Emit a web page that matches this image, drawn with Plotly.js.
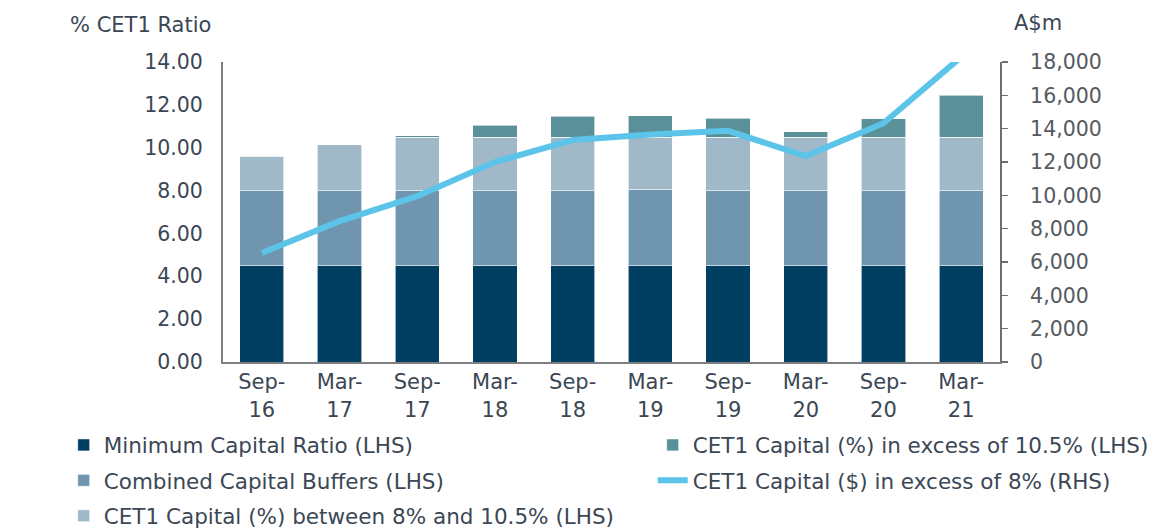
<!DOCTYPE html>
<html>
<head>
<meta charset="utf-8">
<script src="https://cdn.plot.ly/plotly-3.0.1.min.js"></script>
<style>html,body{margin:0;padding:0;background:#fff;}#chart{width:1166px;height:531px;}</style>
</head>
<body>
<div id="chart"></div>
<script>
const categories = ["Sep-<br>16","Mar-<br>17","Sep-<br>17","Mar-<br>18","Sep-<br>18","Mar-<br>19","Sep-<br>19","Mar-<br>20","Sep-<br>20","Mar-<br>21"];
const minimumCapital = [4.5,4.5,4.5,4.5,4.5,4.5,4.5,4.5,4.5,4.5];
const combinedBuffers = [3.5,3.5,3.5,3.5,3.5,3.53,3.5,3.5,3.5,3.5];
const cet1Between = [1.61,2.13,2.5,2.5,2.5,2.47,2.5,2.5,2.5,2.5];
const cet1Excess = [0,0,0.06,0.55,0.96,0.99,0.88,0.25,0.85,1.95];
const cet1Dollars = [6540,8450,9950,12000,13320,13650,13870,12360,14330,18300];

const FONT = "DejaVu Sans, Verdana, sans-serif";
const TXT = "#3b4754";

function barTrace(name, y, color, rank, legend) {
  return {
    type: "bar", name: name, x: categories, y: y,
    marker: {color: color, line: {color: "rgba(255,255,255,0.6)", width: 1}},
    legendgroup: name, legendrank: rank, legend: legend,
    hoverinfo: "skip"
  };
}

const traces = [
  barTrace("Minimum Capital Ratio (LHS)", minimumCapital, "#013f62", 1, "legend"),
  barTrace("Combined Capital Buffers (LHS)", combinedBuffers, "#7095ae", 2, "legend"),
  barTrace("CET1 Capital (%) between 8% and 10.5% (LHS)", cet1Between, "#a1b8c8", 3, "legend"),
  barTrace("CET1 Capital (%) in excess of 10.5% (LHS)", cet1Excess, "#5a9199", 1, "legend2"),
  {
    type: "scatter", mode: "lines", name: "CET1 Capital ($) in excess of 8% (RHS)",
    x: categories, y: cet1Dollars, yaxis: "y2",
    line: {color: "#5bc4e8", width: 6},
    legendgroup: "line", legendrank: 2, legend: "legend2", hoverinfo: "skip"
  }
];

const legendCommon = {
  orientation: "v", traceorder: "grouped", tracegroupgap: 4.5,
  font: {family: FONT, size: 21.5, color: TXT},
  bgcolor: "rgba(0,0,0,0)", xanchor: "left", yanchor: "top",
  itemwidth: 30
};

const layout = {
  width: 1166, height: 531,
  margin: {l: 223, r: 166, t: 62, b: 169, autoexpand: false},
  paper_bgcolor: "#ffffff", plot_bgcolor: "#ffffff",
  font: {family: FONT, size: 21, color: TXT},
  barmode: "stack", bargap: 0.43,
  showlegend: true,
  xaxis: {
    type: "category", range: [-0.5, 9.5],
    showline: true, linecolor: "#7f7f7f", linewidth: 2,
    ticks: "", showgrid: false, zeroline: false,
    tickfont: {family: FONT, size: 21, color: TXT}
  },
  yaxis: {
    range: [0, 14], dtick: 2, tickformat: ".2f",
    showline: true, linecolor: "#7f7f7f", linewidth: 2,
    ticks: "", showgrid: false, zeroline: false,
    ticklabelstandoff: 14,
    tickfont: {family: FONT, size: 20.5, color: TXT}
  },
  yaxis2: {
    overlaying: "y", side: "right", range: [0, 18000], dtick: 2000,
    tickformat: ",d",
    showline: true, linecolor: "#6f6f6f", linewidth: 2,
    ticks: "outside", ticklen: 6, tickwidth: 1.5, tickcolor: "#6f6f6f",
    showgrid: false, zeroline: false,
    ticklabelstandoff: 18,
    tickfont: {family: FONT, size: 20.5, color: "#555a60"}
  },
  legend: Object.assign({}, legendCommon, {x: -0.205, y: -0.208}),
  legend2: Object.assign({}, legendCommon, {x: 0.553, y: -0.208}),
  annotations: [
    {text: "% CET1 Ratio", xref: "paper", yref: "paper", x: -0.2, y: 1.122, xanchor: "left", yanchor: "middle", showarrow: false,
     font: {family: FONT, size: 21, color: TXT}},
    {text: "A$m", xref: "paper", yref: "paper", x: 1.0155, y: 1.13, xanchor: "left", yanchor: "middle", showarrow: false,
     font: {family: FONT, size: 21, color: TXT}}
  ]
};

Plotly.newPlot("chart", traces, layout, {displayModeBar: false, staticPlot: true});
</script>
</body>
</html>
